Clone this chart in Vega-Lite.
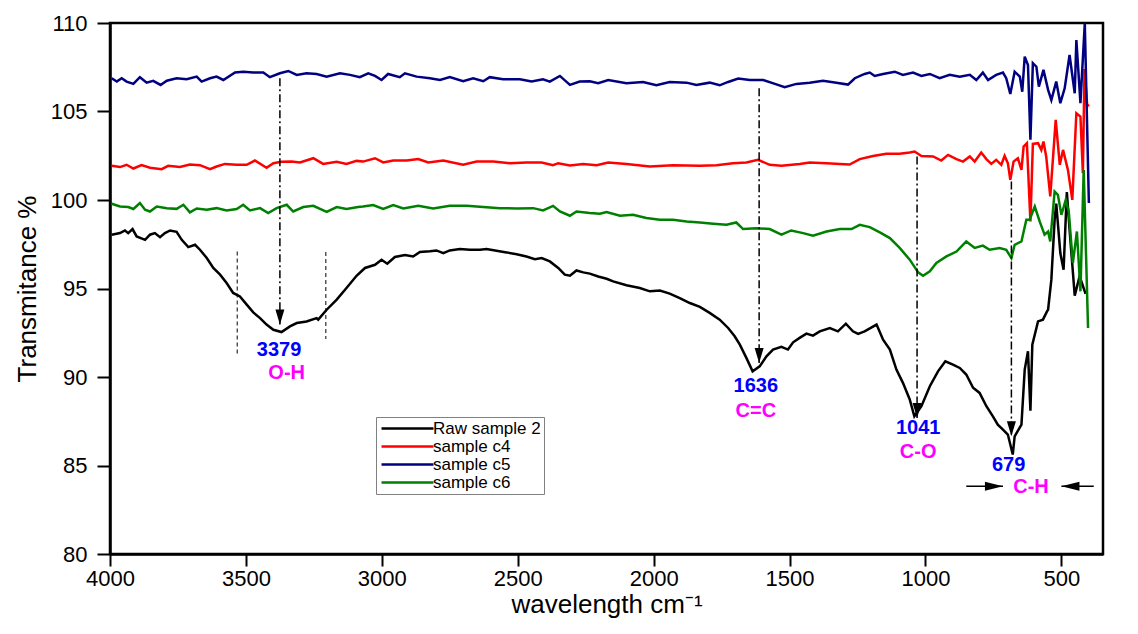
{
  "$schema": "https://vega.github.io/schema/vega-lite/v6.json",
  "width": 993,
  "height": 531,
  "autosize": "none",
  "padding": {"left": 110, "top": 23, "right": 35, "bottom": 80},
  "background": "white",
  "config": {
    "view": {"stroke": "black", "strokeWidth": 2.5},
    "axis": {"grid": false, "domainColor": "black", "domainWidth": 2.5, "tickColor": "black", "tickWidth": 2, "labelColor": "black", "labelFont": "Liberation Sans", "labelFontSize": 22, "labelFlush": false, "labelOverlap": false, "titleFont": "Liberation Sans", "titleFontSize": 26, "titleFontWeight": "normal", "titleColor": "black"},
    "axisX": {"labelPadding": 2, "titlePadding": 2},
    "axisY": {"labelPadding": 10, "titlePadding": 10}
  },
  "datasets": {
    "spectra": [
      {"s":"Raw sample 2","wn":3994,"t":98.04},{"s":"Raw sample 2","wn":3963,"t":98.13},{"s":"Raw sample 2","wn":3945,"t":98.28},{"s":"Raw sample 2","wn":3933,"t":98.13},{"s":"Raw sample 2","wn":3917,"t":98.36},{"s":"Raw sample 2","wn":3902,"t":97.94},{"s":"Raw sample 2","wn":3871,"t":97.75},{"s":"Raw sample 2","wn":3853,"t":98.04},{"s":"Raw sample 2","wn":3835,"t":98.13},{"s":"Raw sample 2","wn":3816,"t":97.9},{"s":"Raw sample 2","wn":3798,"t":98.13},{"s":"Raw sample 2","wn":3779,"t":98.28},{"s":"Raw sample 2","wn":3755,"t":98.2},{"s":"Raw sample 2","wn":3736,"t":97.75},{"s":"Raw sample 2","wn":3712,"t":97.34},{"s":"Raw sample 2","wn":3687,"t":97.47},{"s":"Raw sample 2","wn":3669,"t":97.19},{"s":"Raw sample 2","wn":3644,"t":96.72},{"s":"Raw sample 2","wn":3620,"t":96.16},{"s":"Raw sample 2","wn":3595,"t":95.78},{"s":"Raw sample 2","wn":3571,"t":95.31},{"s":"Raw sample 2","wn":3547,"t":94.75},{"s":"Raw sample 2","wn":3522,"t":94.55},{"s":"Raw sample 2","wn":3497,"t":94.09},{"s":"Raw sample 2","wn":3473,"t":93.65},{"s":"Raw sample 2","wn":3448,"t":93.33},{"s":"Raw sample 2","wn":3424,"t":92.96},{"s":"Raw sample 2","wn":3399,"t":92.67},{"s":"Raw sample 2","wn":3369,"t":92.54},{"s":"Raw sample 2","wn":3338,"t":92.86},{"s":"Raw sample 2","wn":3313,"t":93.05},{"s":"Raw sample 2","wn":3277,"t":93.14},{"s":"Raw sample 2","wn":3240,"t":93.33},{"s":"Raw sample 2","wn":3234,"t":93.24},{"s":"Raw sample 2","wn":3203,"t":93.8},{"s":"Raw sample 2","wn":3166,"t":94.37},{"s":"Raw sample 2","wn":3130,"t":95.03},{"s":"Raw sample 2","wn":3093,"t":95.72},{"s":"Raw sample 2","wn":3062,"t":96.16},{"s":"Raw sample 2","wn":3025,"t":96.34},{"s":"Raw sample 2","wn":3001,"t":96.62},{"s":"Raw sample 2","wn":2980,"t":96.4},{"s":"Raw sample 2","wn":2952,"t":96.78},{"s":"Raw sample 2","wn":2915,"t":96.89},{"s":"Raw sample 2","wn":2885,"t":96.81},{"s":"Raw sample 2","wn":2860,"t":97.06},{"s":"Raw sample 2","wn":2823,"t":97.1},{"s":"Raw sample 2","wn":2799,"t":97.15},{"s":"Raw sample 2","wn":2774,"t":97.0},{"s":"Raw sample 2","wn":2750,"t":97.15},{"s":"Raw sample 2","wn":2713,"t":97.23},{"s":"Raw sample 2","wn":2676,"t":97.19},{"s":"Raw sample 2","wn":2639,"t":97.19},{"s":"Raw sample 2","wn":2615,"t":97.23},{"s":"Raw sample 2","wn":2578,"t":97.13},{"s":"Raw sample 2","wn":2541,"t":97.04},{"s":"Raw sample 2","wn":2504,"t":96.93},{"s":"Raw sample 2","wn":2468,"t":96.81},{"s":"Raw sample 2","wn":2437,"t":96.66},{"s":"Raw sample 2","wn":2412,"t":96.72},{"s":"Raw sample 2","wn":2382,"t":96.53},{"s":"Raw sample 2","wn":2351,"t":96.16},{"s":"Raw sample 2","wn":2327,"t":95.78},{"s":"Raw sample 2","wn":2308,"t":95.72},{"s":"Raw sample 2","wn":2284,"t":96.02},{"s":"Raw sample 2","wn":2259,"t":95.91},{"s":"Raw sample 2","wn":2235,"t":95.84},{"s":"Raw sample 2","wn":2204,"t":95.68},{"s":"Raw sample 2","wn":2173,"t":95.55},{"s":"Raw sample 2","wn":2149,"t":95.4},{"s":"Raw sample 2","wn":2100,"t":95.18},{"s":"Raw sample 2","wn":2051,"t":95.03},{"s":"Raw sample 2","wn":2014,"t":94.84},{"s":"Raw sample 2","wn":1977,"t":94.89},{"s":"Raw sample 2","wn":1941,"t":94.71},{"s":"Raw sample 2","wn":1904,"t":94.46},{"s":"Raw sample 2","wn":1867,"t":94.18},{"s":"Raw sample 2","wn":1830,"t":93.96},{"s":"Raw sample 2","wn":1794,"t":93.62},{"s":"Raw sample 2","wn":1757,"t":93.24},{"s":"Raw sample 2","wn":1726,"t":92.77},{"s":"Raw sample 2","wn":1702,"t":92.3},{"s":"Raw sample 2","wn":1683,"t":91.83},{"s":"Raw sample 2","wn":1659,"t":91.08},{"s":"Raw sample 2","wn":1636,"t":90.32},{"s":"Raw sample 2","wn":1610,"t":90.6},{"s":"Raw sample 2","wn":1585,"t":91.17},{"s":"Raw sample 2","wn":1561,"t":91.55},{"s":"Raw sample 2","wn":1530,"t":91.7},{"s":"Raw sample 2","wn":1506,"t":91.55},{"s":"Raw sample 2","wn":1487,"t":91.96},{"s":"Raw sample 2","wn":1463,"t":92.21},{"s":"Raw sample 2","wn":1438,"t":92.45},{"s":"Raw sample 2","wn":1414,"t":92.34},{"s":"Raw sample 2","wn":1389,"t":92.58},{"s":"Raw sample 2","wn":1352,"t":92.77},{"s":"Raw sample 2","wn":1322,"t":92.58},{"s":"Raw sample 2","wn":1293,"t":93.01},{"s":"Raw sample 2","wn":1267,"t":92.58},{"s":"Raw sample 2","wn":1248,"t":92.44},{"s":"Raw sample 2","wn":1224,"t":92.58},{"s":"Raw sample 2","wn":1180,"t":92.96},{"s":"Raw sample 2","wn":1156,"t":92.11},{"s":"Raw sample 2","wn":1131,"t":91.55},{"s":"Raw sample 2","wn":1107,"t":90.42},{"s":"Raw sample 2","wn":1083,"t":89.67},{"s":"Raw sample 2","wn":1058,"t":88.73},{"s":"Raw sample 2","wn":1041,"t":87.78},{"s":"Raw sample 2","wn":1015,"t":88.35},{"s":"Raw sample 2","wn":984,"t":89.48},{"s":"Raw sample 2","wn":954,"t":90.32},{"s":"Raw sample 2","wn":927,"t":90.89},{"s":"Raw sample 2","wn":899,"t":90.7},{"s":"Raw sample 2","wn":874,"t":90.51},{"s":"Raw sample 2","wn":850,"t":90.14},{"s":"Raw sample 2","wn":825,"t":89.39},{"s":"Raw sample 2","wn":801,"t":89.1},{"s":"Raw sample 2","wn":776,"t":88.35},{"s":"Raw sample 2","wn":752,"t":87.78},{"s":"Raw sample 2","wn":734,"t":87.31},{"s":"Raw sample 2","wn":715,"t":87.03},{"s":"Raw sample 2","wn":697,"t":86.75},{"s":"Raw sample 2","wn":679,"t":85.62},{"s":"Raw sample 2","wn":672,"t":86.65},{"s":"Raw sample 2","wn":647,"t":87.31},{"s":"Raw sample 2","wn":635,"t":90.42},{"s":"Raw sample 2","wn":623,"t":91.45},{"s":"Raw sample 2","wn":614,"t":88.1},{"s":"Raw sample 2","wn":607,"t":91.83},{"s":"Raw sample 2","wn":586,"t":93.14},{"s":"Raw sample 2","wn":568,"t":93.24},{"s":"Raw sample 2","wn":553,"t":93.71},{"s":"Raw sample 2","wn":549,"t":93.8},{"s":"Raw sample 2","wn":537,"t":95.5},{"s":"Raw sample 2","wn":525,"t":98.88},{"s":"Raw sample 2","wn":519,"t":99.8},{"s":"Raw sample 2","wn":504,"t":97.0},{"s":"Raw sample 2","wn":492,"t":96.06},{"s":"Raw sample 2","wn":480,"t":100.45},{"s":"Raw sample 2","wn":470,"t":98.32},{"s":"Raw sample 2","wn":451,"t":94.6},{"s":"Raw sample 2","wn":433,"t":95.7},{"s":"Raw sample 2","wn":411,"t":94.7},

      {"s":"sample c4","wn":3994,"t":101.93},{"s":"sample c4","wn":3963,"t":101.86},{"s":"sample c4","wn":3939,"t":101.99},{"s":"sample c4","wn":3914,"t":101.78},{"s":"sample c4","wn":3884,"t":101.97},{"s":"sample c4","wn":3853,"t":101.82},{"s":"sample c4","wn":3810,"t":101.74},{"s":"sample c4","wn":3786,"t":101.93},{"s":"sample c4","wn":3743,"t":101.86},{"s":"sample c4","wn":3706,"t":102.0},{"s":"sample c4","wn":3669,"t":101.97},{"s":"sample c4","wn":3632,"t":101.74},{"s":"sample c4","wn":3608,"t":101.89},{"s":"sample c4","wn":3577,"t":102.04},{"s":"sample c4","wn":3534,"t":101.99},{"s":"sample c4","wn":3497,"t":101.99},{"s":"sample c4","wn":3467,"t":102.23},{"s":"sample c4","wn":3424,"t":101.82},{"s":"sample c4","wn":3399,"t":102.08},{"s":"sample c4","wn":3369,"t":102.16},{"s":"sample c4","wn":3332,"t":102.17},{"s":"sample c4","wn":3301,"t":102.12},{"s":"sample c4","wn":3252,"t":102.36},{"s":"sample c4","wn":3216,"t":102.04},{"s":"sample c4","wn":3166,"t":102.16},{"s":"sample c4","wn":3130,"t":102.04},{"s":"sample c4","wn":3093,"t":102.21},{"s":"sample c4","wn":3069,"t":102.17},{"s":"sample c4","wn":3025,"t":102.36},{"s":"sample c4","wn":2995,"t":102.12},{"s":"sample c4","wn":2958,"t":102.23},{"s":"sample c4","wn":2909,"t":102.23},{"s":"sample c4","wn":2866,"t":102.31},{"s":"sample c4","wn":2829,"t":102.12},{"s":"sample c4","wn":2774,"t":102.23},{"s":"sample c4","wn":2701,"t":101.99},{"s":"sample c4","wn":2651,"t":102.17},{"s":"sample c4","wn":2590,"t":102.17},{"s":"sample c4","wn":2529,"t":102.08},{"s":"sample c4","wn":2468,"t":102.12},{"s":"sample c4","wn":2412,"t":102.12},{"s":"sample c4","wn":2370,"t":101.97},{"s":"sample c4","wn":2351,"t":102.08},{"s":"sample c4","wn":2308,"t":101.95},{"s":"sample c4","wn":2259,"t":102.04},{"s":"sample c4","wn":2210,"t":101.97},{"s":"sample c4","wn":2167,"t":102.12},{"s":"sample c4","wn":2100,"t":102.04},{"s":"sample c4","wn":2014,"t":101.89},{"s":"sample c4","wn":1929,"t":101.97},{"s":"sample c4","wn":1830,"t":101.93},{"s":"sample c4","wn":1769,"t":101.97},{"s":"sample c4","wn":1708,"t":102.08},{"s":"sample c4","wn":1659,"t":102.12},{"s":"sample c4","wn":1616,"t":102.27},{"s":"sample c4","wn":1573,"t":101.99},{"s":"sample c4","wn":1530,"t":101.93},{"s":"sample c4","wn":1463,"t":102.04},{"s":"sample c4","wn":1426,"t":102.12},{"s":"sample c4","wn":1364,"t":102.08},{"s":"sample c4","wn":1315,"t":102.04},{"s":"sample c4","wn":1279,"t":102.0},{"s":"sample c4","wn":1242,"t":102.31},{"s":"sample c4","wn":1193,"t":102.49},{"s":"sample c4","wn":1144,"t":102.61},{"s":"sample c4","wn":1095,"t":102.61},{"s":"sample c4","wn":1058,"t":102.68},{"s":"sample c4","wn":1040,"t":102.74},{"s":"sample c4","wn":1015,"t":102.49},{"s":"sample c4","wn":972,"t":102.46},{"s":"sample c4","wn":942,"t":102.23},{"s":"sample c4","wn":917,"t":102.55},{"s":"sample c4","wn":886,"t":102.31},{"s":"sample c4","wn":862,"t":102.17},{"s":"sample c4","wn":837,"t":102.46},{"s":"sample c4","wn":819,"t":102.17},{"s":"sample c4","wn":795,"t":102.68},{"s":"sample c4","wn":776,"t":102.31},{"s":"sample c4","wn":758,"t":102.04},{"s":"sample c4","wn":740,"t":102.27},{"s":"sample c4","wn":721,"t":101.99},{"s":"sample c4","wn":709,"t":102.49},{"s":"sample c4","wn":697,"t":102.08},{"s":"sample c4","wn":688,"t":101.14},{"s":"sample c4","wn":676,"t":102.17},{"s":"sample c4","wn":660,"t":102.36},{"s":"sample c4","wn":647,"t":101.7},{"s":"sample c4","wn":639,"t":103.02},{"s":"sample c4","wn":627,"t":103.21},{"s":"sample c4","wn":614,"t":98.79},{"s":"sample c4","wn":605,"t":103.17},{"s":"sample c4","wn":586,"t":103.21},{"s":"sample c4","wn":574,"t":102.83},{"s":"sample c4","wn":566,"t":103.3},{"s":"sample c4","wn":556,"t":102.46},{"s":"sample c4","wn":541,"t":100.2},{"s":"sample c4","wn":521,"t":104.53},{"s":"sample c4","wn":506,"t":101.99},{"s":"sample c4","wn":494,"t":102.83},{"s":"sample c4","wn":476,"t":101.7},{"s":"sample c4","wn":460,"t":100.01},{"s":"sample c4","wn":445,"t":104.9},{"s":"sample c4","wn":430,"t":104.71},{"s":"sample c4","wn":421,"t":101.52},{"s":"sample c4","wn":415,"t":107.4},{"s":"sample c4","wn":405,"t":105.3},{"s":"sample c4","wn":399,"t":105.4},

      {"s":"sample c5","wn":3994,"t":106.88},{"s":"sample c5","wn":3975,"t":106.69},{"s":"sample c5","wn":3957,"t":106.88},{"s":"sample c5","wn":3939,"t":106.69},{"s":"sample c5","wn":3914,"t":106.56},{"s":"sample c5","wn":3890,"t":106.94},{"s":"sample c5","wn":3865,"t":106.63},{"s":"sample c5","wn":3841,"t":106.73},{"s":"sample c5","wn":3814,"t":106.5},{"s":"sample c5","wn":3791,"t":106.74},{"s":"sample c5","wn":3755,"t":106.88},{"s":"sample c5","wn":3718,"t":106.82},{"s":"sample c5","wn":3681,"t":106.97},{"s":"sample c5","wn":3663,"t":106.69},{"s":"sample c5","wn":3632,"t":106.88},{"s":"sample c5","wn":3608,"t":106.97},{"s":"sample c5","wn":3583,"t":106.78},{"s":"sample c5","wn":3540,"t":107.2},{"s":"sample c5","wn":3510,"t":107.25},{"s":"sample c5","wn":3473,"t":107.2},{"s":"sample c5","wn":3436,"t":107.2},{"s":"sample c5","wn":3412,"t":106.94},{"s":"sample c5","wn":3375,"t":107.16},{"s":"sample c5","wn":3344,"t":107.29},{"s":"sample c5","wn":3313,"t":107.07},{"s":"sample c5","wn":3277,"t":107.16},{"s":"sample c5","wn":3240,"t":107.12},{"s":"sample c5","wn":3203,"t":106.97},{"s":"sample c5","wn":3154,"t":107.16},{"s":"sample c5","wn":3117,"t":107.07},{"s":"sample c5","wn":3081,"t":106.94},{"s":"sample c5","wn":3050,"t":107.16},{"s":"sample c5","wn":3025,"t":107.01},{"s":"sample c5","wn":3001,"t":106.78},{"s":"sample c5","wn":2977,"t":107.12},{"s":"sample c5","wn":2934,"t":106.94},{"s":"sample c5","wn":2915,"t":107.16},{"s":"sample c5","wn":2872,"t":106.97},{"s":"sample c5","wn":2823,"t":106.88},{"s":"sample c5","wn":2786,"t":106.78},{"s":"sample c5","wn":2750,"t":106.94},{"s":"sample c5","wn":2701,"t":106.71},{"s":"sample c5","wn":2664,"t":106.88},{"s":"sample c5","wn":2627,"t":106.71},{"s":"sample c5","wn":2603,"t":106.94},{"s":"sample c5","wn":2554,"t":106.82},{"s":"sample c5","wn":2492,"t":106.82},{"s":"sample c5","wn":2449,"t":106.69},{"s":"sample c5","wn":2407,"t":106.82},{"s":"sample c5","wn":2382,"t":106.69},{"s":"sample c5","wn":2345,"t":107.01},{"s":"sample c5","wn":2308,"t":106.5},{"s":"sample c5","wn":2272,"t":106.69},{"s":"sample c5","wn":2235,"t":106.71},{"s":"sample c5","wn":2204,"t":106.6},{"s":"sample c5","wn":2167,"t":106.78},{"s":"sample c5","wn":2100,"t":106.6},{"s":"sample c5","wn":2039,"t":106.67},{"s":"sample c5","wn":1990,"t":106.48},{"s":"sample c5","wn":1941,"t":106.67},{"s":"sample c5","wn":1879,"t":106.63},{"s":"sample c5","wn":1843,"t":106.5},{"s":"sample c5","wn":1794,"t":106.63},{"s":"sample c5","wn":1757,"t":106.48},{"s":"sample c5","wn":1726,"t":106.67},{"s":"sample c5","wn":1689,"t":106.86},{"s":"sample c5","wn":1646,"t":106.78},{"s":"sample c5","wn":1597,"t":106.78},{"s":"sample c5","wn":1554,"t":106.56},{"s":"sample c5","wn":1518,"t":106.37},{"s":"sample c5","wn":1475,"t":106.56},{"s":"sample c5","wn":1426,"t":106.63},{"s":"sample c5","wn":1377,"t":106.74},{"s":"sample c5","wn":1328,"t":106.63},{"s":"sample c5","wn":1285,"t":106.52},{"s":"sample c5","wn":1260,"t":106.88},{"s":"sample c5","wn":1224,"t":107.12},{"s":"sample c5","wn":1205,"t":107.2},{"s":"sample c5","wn":1187,"t":107.01},{"s":"sample c5","wn":1156,"t":107.12},{"s":"sample c5","wn":1113,"t":107.25},{"s":"sample c5","wn":1083,"t":107.07},{"s":"sample c5","wn":1046,"t":107.2},{"s":"sample c5","wn":1015,"t":107.01},{"s":"sample c5","wn":984,"t":107.12},{"s":"sample c5","wn":948,"t":106.88},{"s":"sample c5","wn":911,"t":107.07},{"s":"sample c5","wn":874,"t":106.97},{"s":"sample c5","wn":837,"t":107.07},{"s":"sample c5","wn":813,"t":106.78},{"s":"sample c5","wn":789,"t":107.2},{"s":"sample c5","wn":770,"t":106.78},{"s":"sample c5","wn":740,"t":107.07},{"s":"sample c5","wn":715,"t":107.2},{"s":"sample c5","wn":703,"t":106.88},{"s":"sample c5","wn":688,"t":105.99},{"s":"sample c5","wn":672,"t":107.25},{"s":"sample c5","wn":653,"t":106.97},{"s":"sample c5","wn":644,"t":106.12},{"s":"sample c5","wn":635,"t":108.1},{"s":"sample c5","wn":623,"t":107.63},{"s":"sample c5","wn":614,"t":103.4},{"s":"sample c5","wn":605,"t":107.73},{"s":"sample c5","wn":592,"t":107.53},{"s":"sample c5","wn":583,"t":106.41},{"s":"sample c5","wn":566,"t":107.35},{"s":"sample c5","wn":549,"t":106.22},{"s":"sample c5","wn":537,"t":105.65},{"s":"sample c5","wn":519,"t":106.69},{"s":"sample c5","wn":504,"t":105.47},{"s":"sample c5","wn":488,"t":106.31},{"s":"sample c5","wn":470,"t":108.19},{"s":"sample c5","wn":451,"t":106.03},{"s":"sample c5","wn":445,"t":109.04},{"s":"sample c5","wn":430,"t":105.47},{"s":"sample c5","wn":414,"t":109.98},{"s":"sample c5","wn":399,"t":99.83},

      {"s":"sample c6","wn":3994,"t":99.79},{"s":"sample c6","wn":3963,"t":99.63},{"s":"sample c6","wn":3933,"t":99.6},{"s":"sample c6","wn":3914,"t":99.49},{"s":"sample c6","wn":3890,"t":99.83},{"s":"sample c6","wn":3871,"t":99.45},{"s":"sample c6","wn":3853,"t":99.35},{"s":"sample c6","wn":3828,"t":99.63},{"s":"sample c6","wn":3791,"t":99.54},{"s":"sample c6","wn":3755,"t":99.5},{"s":"sample c6","wn":3730,"t":99.73},{"s":"sample c6","wn":3706,"t":99.3},{"s":"sample c6","wn":3681,"t":99.52},{"s":"sample c6","wn":3644,"t":99.45},{"s":"sample c6","wn":3608,"t":99.54},{"s":"sample c6","wn":3571,"t":99.41},{"s":"sample c6","wn":3534,"t":99.49},{"s":"sample c6","wn":3510,"t":99.73},{"s":"sample c6","wn":3485,"t":99.41},{"s":"sample c6","wn":3448,"t":99.54},{"s":"sample c6","wn":3418,"t":99.26},{"s":"sample c6","wn":3387,"t":99.54},{"s":"sample c6","wn":3350,"t":99.73},{"s":"sample c6","wn":3326,"t":99.35},{"s":"sample c6","wn":3289,"t":99.6},{"s":"sample c6","wn":3252,"t":99.67},{"s":"sample c6","wn":3203,"t":99.33},{"s":"sample c6","wn":3166,"t":99.6},{"s":"sample c6","wn":3130,"t":99.49},{"s":"sample c6","wn":3087,"t":99.6},{"s":"sample c6","wn":3069,"t":99.63},{"s":"sample c6","wn":3032,"t":99.71},{"s":"sample c6","wn":2995,"t":99.49},{"s":"sample c6","wn":2958,"t":99.71},{"s":"sample c6","wn":2921,"t":99.52},{"s":"sample c6","wn":2866,"t":99.67},{"s":"sample c6","wn":2811,"t":99.52},{"s":"sample c6","wn":2750,"t":99.67},{"s":"sample c6","wn":2688,"t":99.67},{"s":"sample c6","wn":2627,"t":99.6},{"s":"sample c6","wn":2566,"t":99.54},{"s":"sample c6","wn":2504,"t":99.52},{"s":"sample c6","wn":2443,"t":99.54},{"s":"sample c6","wn":2407,"t":99.41},{"s":"sample c6","wn":2370,"t":99.67},{"s":"sample c6","wn":2345,"t":99.35},{"s":"sample c6","wn":2308,"t":99.11},{"s":"sample c6","wn":2284,"t":99.35},{"s":"sample c6","wn":2235,"t":99.26},{"s":"sample c6","wn":2198,"t":99.22},{"s":"sample c6","wn":2173,"t":99.32},{"s":"sample c6","wn":2124,"t":99.11},{"s":"sample c6","wn":2076,"t":99.16},{"s":"sample c6","wn":2027,"t":98.98},{"s":"sample c6","wn":1977,"t":98.88},{"s":"sample c6","wn":1929,"t":98.88},{"s":"sample c6","wn":1879,"t":98.79},{"s":"sample c6","wn":1830,"t":98.73},{"s":"sample c6","wn":1781,"t":98.66},{"s":"sample c6","wn":1732,"t":98.6},{"s":"sample c6","wn":1696,"t":98.73},{"s":"sample c6","wn":1671,"t":98.36},{"s":"sample c6","wn":1622,"t":98.41},{"s":"sample c6","wn":1573,"t":98.36},{"s":"sample c6","wn":1530,"t":98.04},{"s":"sample c6","wn":1494,"t":98.28},{"s":"sample c6","wn":1450,"t":98.13},{"s":"sample c6","wn":1414,"t":97.98},{"s":"sample c6","wn":1364,"t":98.22},{"s":"sample c6","wn":1315,"t":98.36},{"s":"sample c6","wn":1272,"t":98.36},{"s":"sample c6","wn":1242,"t":98.6},{"s":"sample c6","wn":1205,"t":98.47},{"s":"sample c6","wn":1168,"t":98.17},{"s":"sample c6","wn":1131,"t":97.85},{"s":"sample c6","wn":1095,"t":97.29},{"s":"sample c6","wn":1058,"t":96.63},{"s":"sample c6","wn":1027,"t":95.91},{"s":"sample c6","wn":1009,"t":95.72},{"s":"sample c6","wn":984,"t":95.97},{"s":"sample c6","wn":960,"t":96.44},{"s":"sample c6","wn":923,"t":96.81},{"s":"sample c6","wn":886,"t":97.09},{"s":"sample c6","wn":850,"t":97.66},{"s":"sample c6","wn":819,"t":97.29},{"s":"sample c6","wn":789,"t":97.42},{"s":"sample c6","wn":764,"t":97.19},{"s":"sample c6","wn":727,"t":97.29},{"s":"sample c6","wn":703,"t":97.19},{"s":"sample c6","wn":684,"t":96.72},{"s":"sample c6","wn":672,"t":97.47},{"s":"sample c6","wn":647,"t":97.66},{"s":"sample c6","wn":629,"t":98.88},{"s":"sample c6","wn":617,"t":98.88},{"s":"sample c6","wn":598,"t":99.63},{"s":"sample c6","wn":580,"t":98.79},{"s":"sample c6","wn":562,"t":98.04},{"s":"sample c6","wn":549,"t":98.22},{"s":"sample c6","wn":541,"t":97.66},{"s":"sample c6","wn":525,"t":100.48},{"s":"sample c6","wn":513,"t":100.29},{"s":"sample c6","wn":500,"t":99.16},{"s":"sample c6","wn":484,"t":100.01},{"s":"sample c6","wn":473,"t":99.35},{"s":"sample c6","wn":458,"t":96.44},{"s":"sample c6","wn":443,"t":98.22},{"s":"sample c6","wn":430,"t":94.84},{"s":"sample c6","wn":418,"t":101.7},{"s":"sample c6","wn":402,"t":92.77}
    ],
    "guides": [
      {"wn": 3532, "t": 97.09, "t2": 91.17},
      {"wn": 3206, "t": 97.06, "t2": 92.15}
    ],
    "peaks": [
      {"wn": 3375, "t": 106.88, "t2": 92.96},
      {"wn": 1612, "t": 106.31, "t2": 90.79},
      {"wn": 1031, "t": 102.46, "t2": 87.69},
      {"wn": 684, "t": 101.04, "t2": 86.65}
    ],
    "harrows": [
      {"wn": 850, "wn2": 715, "t": 83.83, "dir": "right"},
      {"wn": 500, "wn2": 381, "t": 83.83, "dir": "left"}
    ],
    "numbers": [
      {"label": "3379", "wn": 3378, "t": 91.55},
      {"label": "1636", "wn": 1624, "t": 89.48},
      {"label": "1041", "wn": 1027, "t": 87.12},
      {"label": "679", "wn": 694, "t": 85.02}
    ],
    "groups": [
      {"label": "O-H", "wn": 3350, "t": 90.23},
      {"label": "C=C", "wn": 1624, "t": 88.07},
      {"label": "C-O", "wn": 1027, "t": 85.75},
      {"label": "C-H", "wn": 612, "t": 83.78}
    ],
    "xminor": [{"wn": 3750}, {"wn": 3250}, {"wn": 2750}, {"wn": 2250}, {"wn": 1750}, {"wn": 1250}, {"wn": 750}],
    "yminor": [{"t": 82.5}, {"t": 87.5}, {"t": 92.5}, {"t": 97.5}, {"t": 102.5}, {"t": 107.5}]
  },
  "encoding": {
    "x": {
      "field": "wn", "type": "quantitative",
      "scale": {"domain": [347, 4000], "reverse": true, "nice": false, "zero": false},
      "axis": {
        "title": "wavelength cm⁻¹",
        "values": [4000, 3500, 3000, 2500, 2000, 1500, 1000, 500],
        "format": "d",
        "tickSize": 12
      }
    },
    "y": {
      "field": "t", "type": "quantitative",
      "scale": {"domain": [80, 110], "nice": false, "zero": false},
      "axis": {
        "title": "Transmitance %",
        "values": [80, 85, 90, 95, 100, 105, 110],
        "tickSize": 13
      }
    }
  },
  "layer": [
    {
      "data": {"name": "spectra"},
      "mark": {"type": "line", "strokeWidth": 2.5},
      "encoding": {
        "color": {
          "field": "s", "type": "nominal",
          "scale": {"domain": ["Raw sample 2", "sample c4", "sample c5", "sample c6"], "range": ["#000000", "#ff0000", "#000080", "#008000"]},
          "legend": {
            "title": null, "orient": "none", "legendX": 266, "legendY": 394,
            "symbolType": "M-5,0L5,0", "symbolSize": 108, "symbolStrokeWidth": 2.5, "symbolOffset": 20,
            "labelFont": "Liberation Sans", "labelFontSize": 17, "labelColor": "black", "labelOffset": 17,
            "strokeColor": "#808080", "fillColor": "white", "padding": 3, "rowPadding": 0
          }
        }
      }
    },
    {
      "data": {"name": "xminor"},
      "mark": {"type": "rule", "color": "black", "strokeWidth": 2, "clip": false},
      "encoding": {
        "y": {"datum": 80, "type": "quantitative"},
        "y2": {"datum": 79.66}
      }
    },
    {
      "data": {"name": "yminor"},
      "mark": {"type": "rule", "color": "black", "strokeWidth": 2, "clip": false},
      "encoding": {
        "x": {"datum": 4000, "type": "quantitative"},
        "x2": {"datum": 4025.7}
      }
    },
    {
      "data": {"name": "guides"},
      "mark": {"type": "rule", "color": "black", "strokeWidth": 1, "strokeDash": [4, 3]},
      "encoding": {
        "y2": {"field": "t2"}
      }
    },
    {
      "data": {"name": "peaks"},
      "mark": {"type": "rule", "color": "black", "strokeWidth": 1.5, "strokeDash": [8, 3, 2, 3]},
      "encoding": {
        "y2": {"field": "t2"}
      }
    },
    {
      "data": {"name": "peaks"},
      "mark": {"type": "point", "shape": "M-0.6,-2L0.6,-2L0,0Z", "size": 225, "filled": true, "color": "black", "opacity": 1},
      "encoding": {
        "y": {"field": "t2", "type": "quantitative"}
      }
    },
    {
      "data": {"name": "harrows"},
      "mark": {"type": "rule", "color": "black", "strokeWidth": 1.5},
      "encoding": {
        "x2": {"field": "wn2"}
      }
    },
    {
      "data": {"name": "harrows"},
      "transform": [{"filter": "datum.dir === 'right'"}],
      "mark": {"type": "point", "shape": "M-2,-0.5L-2,0.5L0,0Z", "size": 324, "filled": true, "color": "black", "opacity": 1},
      "encoding": {
        "x": {"field": "wn2", "type": "quantitative"}
      }
    },
    {
      "data": {"name": "harrows"},
      "transform": [{"filter": "datum.dir === 'left'"}],
      "mark": {"type": "point", "shape": "M2,-0.5L2,0.5L0,0Z", "size": 324, "filled": true, "color": "black", "opacity": 1}
    },
    {
      "data": {"name": "numbers"},
      "mark": {"type": "text", "font": "Liberation Sans", "fontWeight": "bold", "fontSize": 20, "color": "#0000ff", "baseline": "middle", "align": "center"},
      "encoding": {
        "text": {"field": "label"}
      }
    },
    {
      "data": {"name": "groups"},
      "mark": {"type": "text", "font": "Liberation Sans", "fontWeight": "bold", "fontSize": 20, "color": "#ff00ff", "baseline": "middle", "align": "center"},
      "encoding": {
        "text": {"field": "label"}
      }
    }
  ]
}
